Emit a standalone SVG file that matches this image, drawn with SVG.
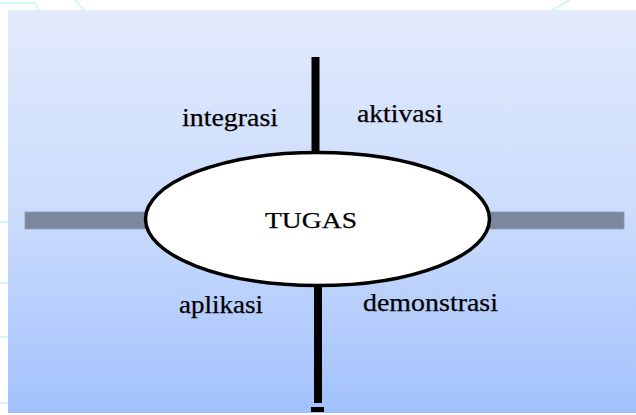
<svg xmlns="http://www.w3.org/2000/svg" width="636" height="415" viewBox="0 0 636 415">
  <defs>
    <linearGradient id="panelFill" x1="0" y1="0" x2="0" y2="1">
      <stop offset="0" stop-color="#e2eafc"/>
      <stop offset="0.5" stop-color="#cbdcfc"/>
      <stop offset="1" stop-color="#a2c1fc"/>
    </linearGradient>
    <style>
      .deco { stroke: #c8f4f6; stroke-width: 1.5; fill: none; }
      .bar { fill: #7a879f; stroke: #8d9ab0; stroke-width: 0.8; }
      .axis { stroke: #000; stroke-width: 8; fill: none; }
      .label { font-family: 'Liberation Serif', serif; font-size: 25px; fill: #000; stroke: #000; stroke-width: 0.25; }
      .title { font-size: 24px; }
      .node { fill: #fff; stroke: #000; stroke-width: 3.5; }
    </style>
  </defs>

  <!-- page backdrop with faint ornament lines -->
  <rect x="0" y="0" width="636" height="415" fill="#fff"/>
  <path class="deco" d="M0 3 H35 L39 10"/>
  <path class="deco" d="M75 0 L84 10"/>
  <path class="deco" d="M570 0 L552 10"/>
  <path class="deco" d="M0 222 H8 M0 283 H8 M0 337 H8 M0 403 H8"/>

  <!-- gradient panel -->
  <rect x="8" y="10" width="628" height="403" fill="url(#panelFill)"/>

  <!-- connectors -->
  <g id="connectors">
    <rect class="bar" x="25" y="212" width="125" height="17"/>
    <rect class="bar" x="486" y="212" width="138" height="17"/>
    <line class="axis" x1="315.5" y1="57" x2="315.5" y2="154"/>
    <line class="axis" x1="318" y1="284" x2="318" y2="403"/>
    <rect x="311" y="407" width="13" height="5" fill="#000"/>
  </g>

  <!-- central node -->
  <g id="node-tugas">
    <ellipse class="node" cx="317.5" cy="219" rx="172" ry="66.5"/>
    <text class="label title" font-family="Liberation Serif" x="265" y="228" textLength="92" lengthAdjust="spacingAndGlyphs">TUGAS</text>
  </g>

  <!-- quadrant labels -->
  <g id="label-integrasi">
    <text class="label" font-family="Liberation Serif" x="182" y="126" textLength="96" lengthAdjust="spacingAndGlyphs">integrasi</text>
  </g>
  <g id="label-aktivasi">
    <text class="label" font-family="Liberation Serif" x="357" y="122" textLength="86" lengthAdjust="spacingAndGlyphs">aktivasi</text>
  </g>
  <g id="label-aplikasi">
    <text class="label" font-family="Liberation Serif" x="179" y="313" textLength="84" lengthAdjust="spacingAndGlyphs">aplikasi</text>
  </g>
  <g id="label-demonstrasi">
    <text class="label" font-family="Liberation Serif" x="363" y="311" textLength="135" lengthAdjust="spacingAndGlyphs">demonstrasi</text>
  </g>
</svg>
